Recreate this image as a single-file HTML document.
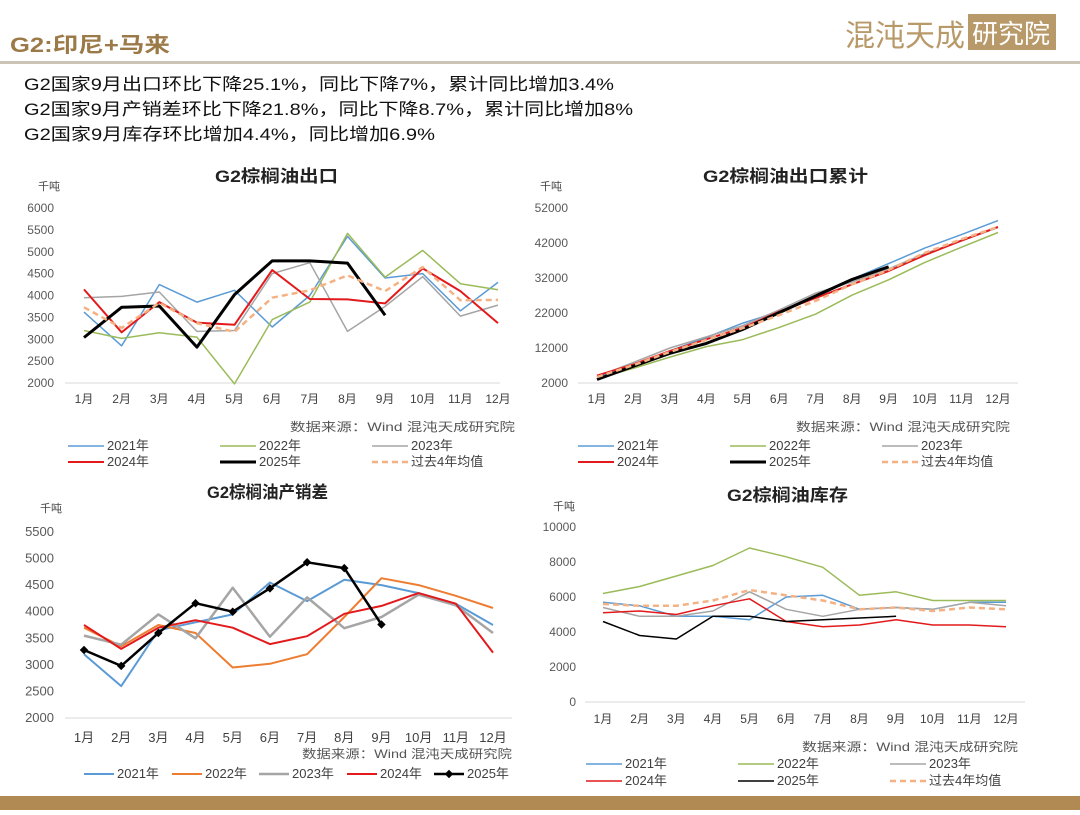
<!DOCTYPE html>
<html><head><meta charset="utf-8">
<style>
body{margin:0;width:1080px;height:810px;background:#fff;overflow:hidden;font-family:"Liberation Sans","Noto Sans CJK SC",sans-serif;}
svg text{font-family:"Liberation Sans","Noto Sans CJK SC",sans-serif;}
</style></head>
<body>
<svg id="root" width="1080" height="810" viewBox="0 0 1080 810" xmlns="http://www.w3.org/2000/svg">
  <text x="10" y="52" font-size="21" font-weight="bold" fill="#9c7a48" textLength="160" lengthAdjust="spacingAndGlyphs">G2:印尼+马来</text>
  <rect x="0" y="61" width="1080" height="3" fill="#cbc3b6"/>
  <g>
    <text x="845" y="46" font-size="30" fill="#b89a6a" font-family="Noto Serif CJK SC, serif">混沌天成</text>
    <rect x="968" y="14" width="88" height="36" fill="#b89a6a"/>
    <text x="972" y="43" font-size="26" fill="#fff">研究院</text>
  </g>
  <g font-size="17" fill="#111">
    <text x="24" y="90" textLength="590" lengthAdjust="spacingAndGlyphs">G2国家9月出口环比下降25.1%，同比下降7%，累计同比增加3.4%</text>
    <text x="24" y="115" textLength="609" lengthAdjust="spacingAndGlyphs">G2国家9月产销差环比下降21.8%，同比下降8.7%，累计同比增加8%</text>
    <text x="24" y="140" textLength="411" lengthAdjust="spacingAndGlyphs">G2国家9月库存环比增加4.4%，同比增加6.9%</text>
  </g>
  <rect x="0" y="796" width="1080" height="14" fill="#b08a52"/>
  <g id="charts"></g>
</svg>
<script>
const months = ["1月","2月","3月","4月","5月","6月","7月","8月","9月","10月","11月","12月"];
// Chart 1: exports
const exp2021 = [3620,2850,4250,3850,4120,3280,4000,5350,4400,4500,3650,4300];
const exp2022 = [3200,3020,3150,3050,1980,3450,3850,5420,4420,5030,4270,4130];
const exp2023 = [3950,3980,4080,3180,3200,4500,4750,3180,3750,4430,3530,3780];
const exp2024 = [4140,3160,3850,3380,3330,4580,3920,3910,3820,4620,4100,3370];
const exp2025 = [3040,3730,3760,2820,4020,4790,4790,4740,3550];
const expAvg  = [3730,3260,3830,3370,3170,3950,4120,4460,4100,4650,3890,3900];
const expTicks = [2000,2500,3000,3500,4000,4500,5000,5500,6000];
// Chart 2: cumulative exports
const cum2021 = [3600,7000,11200,15000,19100,22400,26400,31700,36100,40600,44400,48400];
const cum2022 = [3200,6200,9400,12400,14400,17900,21700,27100,31500,36500,40800,45000];
const cum2023 = [3900,7900,12000,15200,18400,22900,27700,30900,34600,39000,42600,46400];
const cum2024 = [4100,7300,11100,14500,17800,22400,26300,30200,34000,38600,42700,46600];
const cum2025 = [3000,6800,10500,13300,17300,22100,26900,31600,35200];
const cumAvg  = [3700,7100,10900,14300,17700,21400,25500,30200,34300,39200,43100,46600];
const cumTicks = [2000,12000,22000,32000,42000,52000];
// Chart 3: production-sales gap
const gap2021 = [3200,2600,3650,3800,3950,4550,4200,4600,4500,4350,4150,3750];
const gap2022 = [3700,3350,3750,3600,2950,3020,3200,3900,4630,4500,4300,4070];
const gap2023 = [3550,3380,3950,3500,4450,3530,4270,3690,3900,4320,4120,3600];
const gap2024 = [3750,3300,3700,3840,3700,3390,3540,3960,4110,4350,4150,3230];
const gap2025 = [3280,2980,3600,4160,4000,4440,4930,4820,3760];
const gapTicks = [2000,2500,3000,3500,4000,4500,5000,5500];
// Chart 4: inventory
const inv2021 = [5700,5500,4900,4900,4700,6000,6100,5300,5400,5300,5700,5700];
const inv2022 = [6200,6600,7200,7800,8800,8300,7700,6100,6300,5800,5800,5800];
const inv2023 = [5400,4900,4900,5200,6300,5300,4900,5300,5400,5300,5700,5500];
const inv2024 = [5100,5200,5000,5500,5900,4600,4300,4400,4700,4400,4400,4300];
const inv2025 = [4600,3800,3600,4900,4900,4600,4700,4800,4900];
const invAvg  = [5600,5500,5500,5800,6400,6100,5800,5300,5400,5200,5400,5300];
const invTicks = [0,2000,4000,6000,8000,10000];

const NS = "http://www.w3.org/2000/svg";
const root = document.getElementById("charts");
function mk(tag, attrs, parent){const e=document.createElementNS(NS,tag);for(const k in attrs)e.setAttribute(k,attrs[k]);(parent||root).appendChild(e);return e;}
function txt(parent,x,y,s,size,fill,anchor,extra){const t=mk("text",Object.assign({x:x,y:y,"font-size":size,fill:fill,"text-anchor":anchor||"start"},extra||{}),parent);t.textContent=s;return t;}

function chart(cfg){
  const g = mk("g",{});
  
  
  const ticks=cfg.ticks, min=ticks[0], max=ticks[ticks.length-1];
  const yS=v=>cfg.y0-(v-min)/(max-min)*(cfg.y0-cfg.y1);
  const xS=i=>cfg.x0+i*(cfg.x1-cfg.x0)/11;
  const t=txt(g,cfg.titleX,cfg.titleY,cfg.title,17,"#222","start",{"font-weight":"bold",textLength:cfg.titleW,lengthAdjust:"spacingAndGlyphs"});
  
  
  const u=txt(g,cfg.unitX,cfg.unitY,"千吨",11,"#444","start");
  
  
  const ax=mk("line",{x1:cfg.axL,x2:cfg.axR,y1:cfg.y0,y2:cfg.y0,stroke:"#d9d9d9","stroke-width":1},g);
  
  
  ticks.forEach(v=>{const e=txt(g,cfg.tickX,yS(v)+4,String(v),cfg.tickSize||12,"#595959","end");
    
    });
  months.forEach((m,i)=>{const e=txt(g,xS(i),cfg.y0+cfg.mDy,m,cfg.mSize||12,"#404040","middle");
    
    });
  cfg.series.forEach(s=>{
    const pts=s.data.map((v,i)=>xS(i).toFixed(1)+","+yS(v).toFixed(1)).join(" ");
    const a={points:pts,fill:"none",stroke:s.color,"stroke-width":s.w,"stroke-linejoin":"round"};
    if(s.dash)a["stroke-dasharray"]=s.dash;
    const p=mk("polyline",a,g);
    
    
    if(s.marker){s.data.forEach((v,i)=>{const d=mk("rect",{x:xS(i)-3,y:yS(v)-3,width:6,height:6,fill:s.color,transform:`rotate(45 ${xS(i)} ${yS(v)})`},g);
      
      });}
  });
  const src=txt(g,cfg.srcX,cfg.srcY,"数据来源：Wind  混沌天成研究院",12,"#555","start",{textLength:cfg.srcW,lengthAdjust:"spacingAndGlyphs"});
  
  
  cfg.legend.forEach((L,k)=>{
    const s=cfg.series[k];
    const lg=mk("g",{},g);
    
    
    const la={x1:L[0],x2:L[0]+L[2],y1:L[1],y2:L[1],stroke:s.color,"stroke-width":s.w};
    if(s.dash)la["stroke-dasharray"]=s.dash;
    mk("line",la,lg);
    if(s.marker) mk("rect",{x:L[0]+L[2]/2-3,y:L[1]-3,width:6,height:6,fill:s.color,transform:`rotate(45 ${L[0]+L[2]/2} ${L[1]})`},lg);
    txt(lg,L[0]+L[2]+3,L[1]+4,s.label,13,"#404040","start");
  });
}
const C21="#5b9bd5",C22g="#9bbb59",C23="#a5a5a5",C24="#e31a1c",C25="#000",CAV="#f4b183",C22o="#ed7d31";
const sixLegend=(x,y1,y2,w,dx)=>[[x,y1,w],[x+dx,y1,w],[x+2*dx,y1,w],[x,y2,w],[x+dx,y2,w],[x+2*dx,y2,w]];

chart({name:"export-chart",title:"G2棕榈油出口",titleX:215,titleW:123,titleY:182,unitX:38,unitY:190,
  ticks:expTicks,y0:383,y1:208,x0:84,x1:498,axL:65,axR:500,tickX:54,mDy:20,srcX:290,srcW:225,srcY:431,
  series:[{label:"2021年",data:exp2021,color:C21,w:1.5},{label:"2022年",data:exp2022,color:C22g,w:1.5},{label:"2023年",data:exp2023,color:C23,w:1.5},
    {label:"2024年",data:exp2024,color:C24,w:2},{label:"2025年",data:exp2025,color:C25,w:3},{label:"过去4年均值",data:expAvg,color:CAV,w:2.5,dash:"6,4"}],
  legend:sixLegend(68,446,462,36,152)});

chart({name:"cumulative-export-chart",title:"G2棕榈油出口累计",titleX:703,titleW:165,titleY:182,unitX:540,unitY:190,
  ticks:cumTicks,y0:383,y1:208,x0:597,x1:998,axL:578,axR:1018,tickX:568,mDy:20,srcX:796,srcW:214,srcY:431,
  series:[{label:"2021年",data:cum2021,color:C21,w:1.5},{label:"2022年",data:cum2022,color:C22g,w:1.5},{label:"2023年",data:cum2023,color:C23,w:1.5},
    {label:"2024年",data:cum2024,color:C24,w:2},{label:"2025年",data:cum2025,color:C25,w:3},{label:"过去4年均值",data:cumAvg,color:CAV,w:2.5,dash:"6,4"}],
  legend:sixLegend(578,446,462,36,152)});

chart({name:"production-sales-gap-chart",title:"G2棕榈油产销差",titleX:207,titleW:121,titleY:498,unitX:40,unitY:512,
  ticks:gapTicks,y0:718,y1:532,x0:84,x1:493,axL:65,axR:512,tickX:54,mDy:24,mSize:13,tickSize:13,srcX:302,srcW:210,srcY:758,
  series:[{label:"2021年",data:gap2021,color:C21,w:2},{label:"2022年",data:gap2022,color:C22o,w:2},{label:"2023年",data:gap2023,color:C23,w:2.5},
    {label:"2024年",data:gap2024,color:C24,w:2},{label:"2025年",data:gap2025,color:C25,w:2.5,marker:true}],
  legend:[[84,774,30],[172,774,30],[259,774,30],[347,774,30],[434,774,30]]});

chart({name:"inventory-chart",title:"G2棕榈油库存",titleX:727,titleW:121,titleY:501,unitX:553,unitY:510,
  ticks:invTicks,y0:702,y1:527,x0:603,x1:1006,axL:585,axR:1025,tickX:576,mDy:21,srcX:802,srcW:216,srcY:751,
  series:[{label:"2021年",data:inv2021,color:C21,w:1.5},{label:"2022年",data:inv2022,color:C22g,w:1.5},{label:"2023年",data:inv2023,color:C23,w:1.5},
    {label:"2024年",data:inv2024,color:C24,w:1.5},{label:"2025年",data:inv2025,color:C25,w:1.5},{label:"过去4年均值",data:invAvg,color:CAV,w:2.5,dash:"6,4"}],
  legend:sixLegend(586,764,781,36,152)});
</script>
</body></html>
